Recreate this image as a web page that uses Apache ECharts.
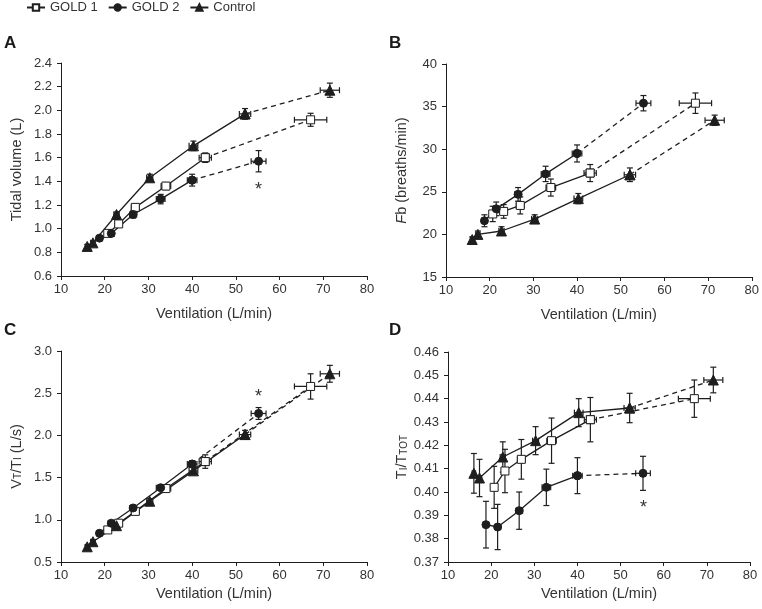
<!DOCTYPE html>
<html><head><meta charset="utf-8">
<script src="https://cdn.jsdelivr.net/npm/echarts@6/dist/echarts.min.js"></script>
<style>html,body{margin:0;padding:0;background:#fff}#c{width:762px;height:609px}</style>
</head><body><div id="c"></div>
<script>
const groups = ['GOLD 1', 'GOLD 2', 'Control'];

// Ventilation (x) per group, shared by all panels
const ventGold1 = [20.7, 23.2, 27.0, 34.0, 43.0, 67.1];
const ventGold1Err = [0.7, 0.8, 0.9, 1.1, 1.4, 3.7];
const ventGold2 = [18.8, 21.5, 26.5, 32.8, 40.0, 55.2];
const ventGold2Err = [0.6, 0.7, 0.8, 1.0, 1.1, 1.7];
const ventControl = [16.0, 17.3, 22.7, 30.3, 40.3, 52.1, 71.5];
const ventControlErr = [0.4, 0.5, 0.6, 0.7, 1.0, 1.3, 2.2];

// Panel A: tidal volume (L)
const tidalGold1 = [0.96, 1.04, 1.18, 1.36, 1.60, 1.92];
const tidalGold1Err = [0.02, 0.02, 0.03, 0.03, 0.04, 0.055];
const tidalGold2 = [0.92, 0.96, 1.12, 1.25, 1.41, 1.57];
const tidalGold2Err = [0.02, 0.02, 0.03, 0.04, 0.05, 0.09];
const tidalControl = [0.85, 0.88, 1.12, 1.43, 1.70, 1.97, 2.17];
const tidalControlErr = [0.015, 0.015, 0.02, 0.03, 0.04, 0.045, 0.06];

// Panel B: Fb (breaths/min)
const fbGold1 = [22.4, 22.7, 23.4, 25.5, 27.2, 35.4];
const fbGold1Err = [0.9, 0.8, 1.0, 1.0, 1.0, 1.2];
const fbGold2 = [21.6, 23.0, 24.7, 27.1, 29.5, 35.4];
const fbGold2Err = [0.7, 0.8, 0.8, 0.9, 1.0, 0.9];
const fbControl = [19.4, 20.0, 20.4, 21.8, 24.2, 27.0, 33.4];
const fbControlErr = [0.3, 0.4, 0.5, 0.5, 0.6, 0.8, 0.6];

// Panel C: VT/TI (L/s)
const flowGold1 = [0.88, 0.96, 1.10, 1.37, 1.69, 2.58];
const flowGold1Err = [0.02, 0.03, 0.03, 0.04, 0.08, 0.15];
const flowGold2 = [0.84, 0.96, 1.14, 1.38, 1.66, 2.26];
const flowGold2Err = [0.02, 0.03, 0.03, 0.03, 0.04, 0.07];
const flowControl = [0.68, 0.74, 0.93, 1.22, 1.58, 2.01, 2.73];
const flowControlErr = [0.02, 0.02, 0.03, 0.03, 0.04, 0.05, 0.10];

// Panel D: TI/TTOT
const dutyGold1 = [0.402, 0.409, 0.414, 0.422, 0.431, 0.440];
const dutyGold1Err = [0.009, 0.0093, 0.0085, 0.0097, 0.0095, 0.008];
const dutyGold2 = [0.386, 0.385, 0.392, 0.402, 0.407, 0.408];
const dutyGold2Err = [0.010, 0.0097, 0.008, 0.0078, 0.0077, 0.0073];
const dutyControl = [0.408, 0.406, 0.415, 0.422, 0.434, 0.436, 0.448];
const dutyControlErr = [0.0085, 0.008, 0.0065, 0.006, 0.006, 0.0063, 0.0055];

// Significance markers (*) per panel
const asteriskA = [[55.2, 1.33]];
const asteriskC = [[55.2, 2.46]];
const asteriskD = [[55.3, 0.393]];

// Axis ticks
const xTicks = {min: 10, max: 80, interval: 10};
const yTicksA = {min: 0.6, max: 2.4, interval: 0.2, dec: 1};
const yTicksB = {min: 15, max: 40, interval: 5, dec: 0};
const yTicksC = {min: 0.5, max: 3.0, interval: 0.5, dec: 1};
const yTicksD = {min: 0.37, max: 0.46, interval: 0.01, dec: 2};
const panelLabels = ['A', 'B', 'C', 'D'];

const vent = {'GOLD 1': [ventGold1, ventGold1Err], 'GOLD 2': [ventGold2, ventGold2Err], 'Control': [ventControl, ventControlErr]};
const panelValues = [
  {'GOLD 1': [tidalGold1, tidalGold1Err], 'GOLD 2': [tidalGold2, tidalGold2Err], 'Control': [tidalControl, tidalControlErr]},
  {'GOLD 1': [fbGold1, fbGold1Err], 'GOLD 2': [fbGold2, fbGold2Err], 'Control': [fbControl, fbControlErr]},
  {'GOLD 1': [flowGold1, flowGold1Err], 'GOLD 2': [flowGold2, flowGold2Err], 'Control': [flowControl, flowControlErr]},
  {'GOLD 1': [dutyGold1, dutyGold1Err], 'GOLD 2': [dutyGold2, dutyGold2Err], 'Control': [dutyControl, dutyControlErr]}
];
const panelAsterisks = [asteriskA, [], asteriskC, asteriskD];
const yTicks = [yTicksA, yTicksB, yTicksC, yTicksD];

const INK = '#1e1e1e';
const TXT = '#333';
const FONT = 'Liberation Sans, Arial, sans-serif';
const symbols = {'GOLD 1': 'rect', 'GOLD 2': 'circle', 'Control': 'triangle'};
const fills = {'GOLD 1': '#fff', 'GOLD 2': INK, 'Control': INK};
const sizes = {'GOLD 1': 8, 'GOLD 2': 8, 'Control': 10};

const grids = [
  {left: 61, top: 63, width: 306, height: 213},
  {left: 446, top: 64, width: 306, height: 213},
  {left: 61, top: 351, width: 306, height: 211},
  {left: 448, top: 352, width: 302, height: 210}
];
const xNameGaps = [30, 30, 24, 24];
const yNames = [
  'Tidal volume (L)',
  '{i|F}b (breaths/min)',
  'V{s|T}/T{s|I} (L/s)',
  'T{s|I}/T{s|TOT}'
];

function errRender(params, api) {
  const x = api.value(0), y = api.value(1), xe = api.value(2), ye = api.value(3);
  const t = api.coord([x, y + ye]), b = api.coord([x, y - ye]);
  const l = api.coord([x - xe, y]), r = api.coord([x + xe, y]);
  const cap = 3;
  const st = {stroke: INK, lineWidth: 1.2};
  const ln = (x1, y1, x2, y2) => ({type: 'line', shape: {x1, y1, x2, y2}, style: st});
  return {type: 'group', children: [
    ln(t[0], t[1], b[0], b[1]),
    ln(t[0] - cap, t[1], t[0] + cap, t[1]),
    ln(b[0] - cap, b[1], b[0] + cap, b[1]),
    ln(l[0], l[1], r[0], r[1]),
    ln(l[0], l[1] - cap, l[0], l[1] + cap),
    ln(r[0], r[1] - cap, r[0], r[1] + cap)
  ]};
}
function starRender(params, api) {
  const c = api.coord([api.value(0), api.value(1)]);
  return {type: 'text', x: c[0], y: c[1], style: {text: '*', fill: TXT, font: '18px ' + FONT, align: 'center', verticalAlign: 'middle'}};
}

const xAxes = [], yAxes = [], series = [];
grids.forEach((g, p) => {
  xAxes.push({
    type: 'value', gridIndex: p, min: xTicks.min, max: xTicks.max, interval: xTicks.interval,
    name: 'Ventilation (L/min)', nameLocation: 'middle', nameGap: xNameGaps[p],
    nameTextStyle: {color: TXT, fontSize: 14.5, fontFamily: FONT},
    axisLine: {lineStyle: {color: INK, width: 1}},
    axisTick: {show: true, length: 4, inside: false, lineStyle: {color: INK}},
    axisLabel: {color: TXT, fontSize: 13, fontFamily: FONT, margin: 7},
    splitLine: {show: false}
  });
  const yt = yTicks[p];
  yAxes.push({
    type: 'value', gridIndex: p, min: yt.min, max: yt.max, interval: yt.interval,
    name: yNames[p], nameLocation: 'middle', nameRotate: 90, nameGap: 37,
    nameTextStyle: {color: TXT, fontSize: 14.5, fontFamily: FONT,
      rich: {i: {fontStyle: 'italic', fontSize: 14.5, color: TXT, fontFamily: FONT},
             s: {fontSize: 10, color: TXT, fontFamily: FONT, padding: [4, 0, 0, 0]}}},
    axisLine: {show: true, lineStyle: {color: INK, width: 1}},
    axisTick: {show: true, length: 4, inside: false, lineStyle: {color: INK}},
    axisLabel: {color: TXT, fontSize: 13, fontFamily: FONT, margin: 9, formatter: v => v.toFixed(yt.dec)},
    splitLine: {show: false}
  });
  groups.forEach(gname => {
    const xs = vent[gname][0], xe = vent[gname][1];
    const ys = panelValues[p][gname][0], ye = panelValues[p][gname][1];
    const pts = xs.map((x, i) => [x, ys[i]]);
    const n = pts.length;
    series.push({
      type: 'custom', xAxisIndex: p, yAxisIndex: p, renderItem: errRender, silent: true, z: 1,
      encode: {x: 0, y: 1}, data: xs.map((x, i) => [x, ys[i], xe[i], ye[i]])
    });
    series.push({
      name: gname + ' (ext)', type: 'line', xAxisIndex: p, yAxisIndex: p, data: pts.slice(n - 2),
      symbol: symbols[gname], symbolSize: sizes[gname], showAllSymbol: true,
      lineStyle: {color: INK, width: 1.3, type: [5, 4]},
      itemStyle: {color: fills[gname], borderColor: INK, borderWidth: 1}, z: 2, silent: true
    });
    series.push({
      name: gname, type: 'line', xAxisIndex: p, yAxisIndex: p, data: pts.slice(0, n - 1),
      symbol: symbols[gname], symbolSize: sizes[gname], showAllSymbol: true,
      lineStyle: {color: INK, width: 1.3},
      itemStyle: {color: fills[gname], borderColor: INK, borderWidth: 1}, z: 3, silent: true
    });
  });
  if (panelAsterisks[p].length) {
    series.push({type: 'custom', xAxisIndex: p, yAxisIndex: p, renderItem: starRender, silent: true, z: 4,
      encode: {x: 0, y: 1}, data: panelAsterisks[p]});
  }
});

const labelPos = [[4, 35], [389, 35], [4, 322], [389, 322]];
const chart = echarts.init(document.getElementById('c'), null, {renderer: 'canvas'});
chart.setOption({
  animation: false,
  backgroundColor: '#fff',
  grid: grids,
  xAxis: xAxes,
  yAxis: yAxes,
  legend: {
    data: groups, top: 1, left: 26, padding: 0, itemWidth: 18, itemHeight: 8, itemGap: 10,
    textStyle: {color: TXT, fontSize: 13, fontFamily: FONT}, selectedMode: false
  },
  graphic: panelLabels.map((t, i) => ({
    type: 'text', left: labelPos[i][0], top: labelPos[i][1],
    style: {text: t, fill: '#1a1a1a', font: 'bold 17px ' + FONT}
  })),
  series: series
});
</script></body></html>
